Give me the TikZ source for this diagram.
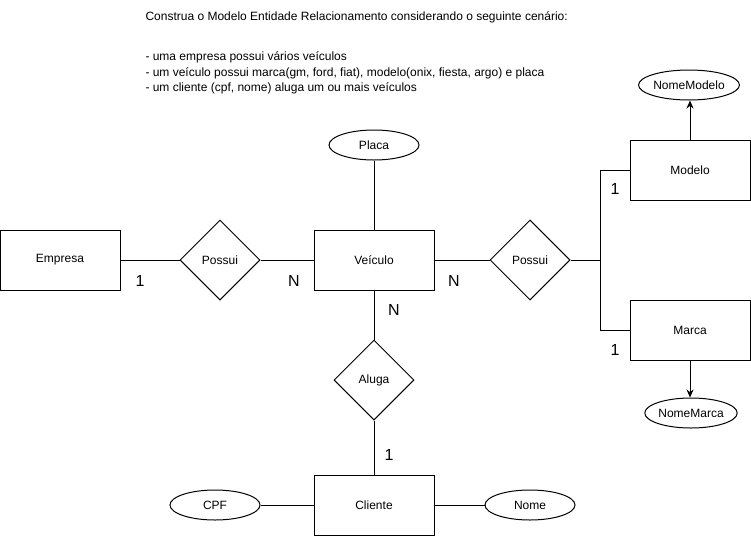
\documentclass[tikz,border=0pt]{standalone}
\usepackage{fontspec}
\setmainfont{Liberation Sans}
\usetikzlibrary{shapes.geometric}
\usetikzlibrary{calc,arrows.meta}

\begin{document}
\begin{tikzpicture}[x=1pt,y=-1pt,line width=1pt,font=\fontsize{12}{14}\selectfont]
  % Definimos os estilos para entidades, relacionamentos e atributos
    \tikzstyle{entidade} = [draw, fill=white, text centered, minimum width=120pt, minimum height=60pt, inner sep=0pt];
  \tikzstyle{relacao} = [draw, fill=white, text centered, diamond, aspect=1, minimum width=80pt, minimum height=80pt, inner sep=0pt];
  \tikzstyle{atributo} = [draw, fill=white, text centered, ellipse, minimum width=90pt, minimum height=30pt, inner sep=0pt];
  \tikzstyle{card} = [font=\fontsize{16}{18}\selectfont];
  \tikzstyle{texto} = [anchor=west, inner sep=0pt];

  \useasboundingbox (0,0) rectangle (751,536);

  % Enunciado do exercicio
    \node [texto] (enunciado) at (145,17) {Construa o Modelo Entidade Relacionamento considerando o seguinte cenário:};
    \node [texto] (itemA) at (145,57) {- uma empresa possui vários veículos};
    \node [texto] (itemB) at (145,73) {- um veículo possui marca(gm, ford, fiat), modelo(onix, fiesta, argo) e placa};
    \node [texto] (itemC) at (145,88) {- um cliente (cpf, nome) aluga um ou mais veículos};

  % Entidades
    \node [entidade] (empresa) at (60,260) {Empresa};
    \node [entidade] (veiculo) at (374,260) {Veículo};
    \node [entidade] (modelo) at (690,170) {Modelo};
    \node [entidade] (marca) at (690,330) {Marca};
    \node [entidade] (cliente) at (374,505) {Cliente};

  % Relacionamentos
    \node [relacao] (possuiA) at (220,260) {Possui};
    \node [relacao] (possuiB) at (530,260) {Possui};
    \node [relacao] (aluga) at (374,380) {Aluga};

  % Atributos
    \node [atributo] (placa) at (374,145) {Placa};
    \node [atributo, minimum width=98pt] (nomemodelo) at (689,85) {NomeModelo};
    \node [atributo, minimum width=92pt] (nomemarca) at (691,413) {NomeMarca};
    \node [atributo] (cpf) at (215,505) {CPF};
    \node [atributo] (nome) at (530,505) {Nome};

  % Ligacoes
    \coordinate (juncao) at (600,260);
    \draw (empresa) -- (possuiA);
    \draw (possuiA) -- (veiculo);
    \draw (veiculo) -- (possuiB);
    \draw (possuiB.east) -- (juncao) |- (modelo.west);
    \draw (juncao) |- (marca.west);
    \draw (veiculo) -- (placa);
    \draw (veiculo) -- (aluga);
    \draw (aluga) -- (cliente);
    \draw (cpf) -- (cliente);
    \draw (cliente) -- (nome);
    \draw [-{Stealth[length=8pt,width=7pt]}] (modelo.north) -- (modelo.north |- nomemodelo.south);
    \draw [-{Stealth[length=8pt,width=7pt]}] (marca.south) -- (marca.south |- nomemarca.north);

  % Cardinalidades
    \node [card] (cardA) at (140,281) {1};
    \node [card] (cardB) at (294,281) {N};
    \node [card] (cardC) at (454,281) {N};
    \node [card] (cardD) at (394,310) {N};
    \node [card] (cardE) at (389,455) {1};
    \node [card] (cardF) at (615,189) {1};
    \node [card] (cardG) at (615,350) {1};
  \end{tikzpicture}
\end{document}
